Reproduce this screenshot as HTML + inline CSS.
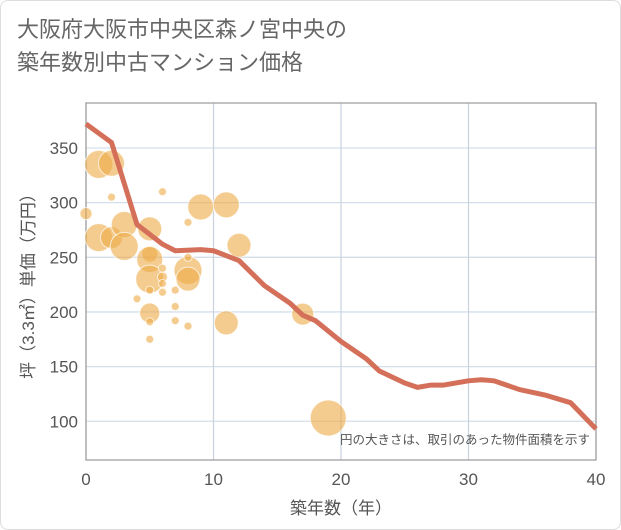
<!DOCTYPE html>
<html><head><meta charset="utf-8"><style>
body{margin:0;background:#fff;}
#card{position:absolute;left:0;top:0;width:619px;height:528px;border:1px solid #ddd;border-radius:8px;background:#fff;}
#title{position:absolute;left:16px;top:12px;font:22px "Liberation Sans","Noto Sans CJK JP",sans-serif;color:#666;line-height:33px;}
svg text{font-family:"Liberation Sans","Noto Sans CJK JP",sans-serif;}
</style></head><body>
<div id="card">
<div id="title">大阪府大阪市中央区森ノ宮中央の<br>築年数別中古マンション価格</div>
</div>
<svg id="chart" width="621" height="530" style="position:absolute;left:0;top:0"></svg>
<script>
const xTicks=[0,10,20,30,40];
const yTicks=[100,150,200,250,300,350];
const bubAge=[1,2,2,0,1,2,3,3,5,6,5,5,5,6,6,5,7,4,5,7,7,5,8,5,8,8,8,9,11,12,11,17,19,8,6,6];
const bubPrice=[335,336,305,290,268,268,280,260,276,310,253,248,230,232,218,220,220,212,199,205,192,191,187,175,238,230,282,296,298,261,190,198,103,250,240,226];
const bubR=[14,13,4,6,14,11,13,14,12,4,8,13,14,5,4,4,4,4,10,4,4,4,4,4,14,12,4,13,13,12,12,11,18,4,4,4];
const lineAge=[0,2,4,6,7,9,10,12,14,16,17,18,20,22,23,25,26,27,28,30,31,32,34,36,38,40];
const linePrice=[372,355,280,262,256,257,256,247,224,208,197,192,173,157,146,135,131,133,133,137,138,137,129,124,117,93];
const X0=86,X1=596,Y0=460,Y1=103;
const xs=v=>X0+(v-0)/40*(X1-X0);
const ys=v=>148+(350-v)*1.093;
const svg=document.getElementById('chart');
const NS='http://www.w3.org/2000/svg';
function mk(t,a){const e=document.createElementNS(NS,t);for(const k in a)e.setAttribute(k,a[k]);svg.appendChild(e);return e;}
let e;
e=mk('rect',{x:X0,y:Y1,width:X1-X0,height:Y0-Y1,fill:'#fff'});


yTicks.forEach(v=>{
 e=mk('line',{x1:X0,x2:X1,y1:ys(v),y2:ys(v),stroke:'#d5dfe9','stroke-width':1.3});
 
 
 e=mk('text',{x:X0-8,y:ys(v)+6,'text-anchor':'end','font-size':17,fill:'#555'});e.textContent=v;
 
 
});
xTicks.forEach(v=>{
 e=mk('line',{x1:xs(v),x2:xs(v),y1:Y1,y2:Y0,stroke:'#c8d3de','stroke-width':1.2});
 
 
 e=mk('text',{x:xs(v),y:Y0+25,'text-anchor':'middle','font-size':17,fill:'#555'});e.textContent=v;
 
 
});
e=mk('rect',{x:X0,y:Y1,width:X1-X0,height:Y0-Y1,fill:'none',stroke:'#999','stroke-width':1.2});


bubAge.forEach((a,i)=>{
 e=mk('circle',{cx:xs(a),cy:ys(bubPrice[i]),r:bubR[i],fill:'rgba(236,170,70,0.6)',stroke:'rgba(255,255,255,0.7)','stroke-width':1});
 
 
});
e=mk('polyline',{points:lineAge.map((a,i)=>xs(a)+','+ys(linePrice[i])).join(' '),fill:'none',stroke:'#d4705a','stroke-width':5,'stroke-linejoin':'round'});


e=mk('text',{x:590,y:444,'text-anchor':'end','font-size':12.5,fill:'#555'});e.textContent='円の大きさは、取引のあった物件面積を示す';


e=mk('text',{x:X0+(X1-X0)/2,y:514,'text-anchor':'middle','font-size':17,fill:'#555'});e.textContent='築年数（年）';


e=mk('text',{x:0,y:0,'text-anchor':'middle','font-size':17,fill:'#555',transform:'translate(34,282) rotate(-90)'});e.textContent='坪（3.3㎡）単価（万円）';


</script>
</body></html>
